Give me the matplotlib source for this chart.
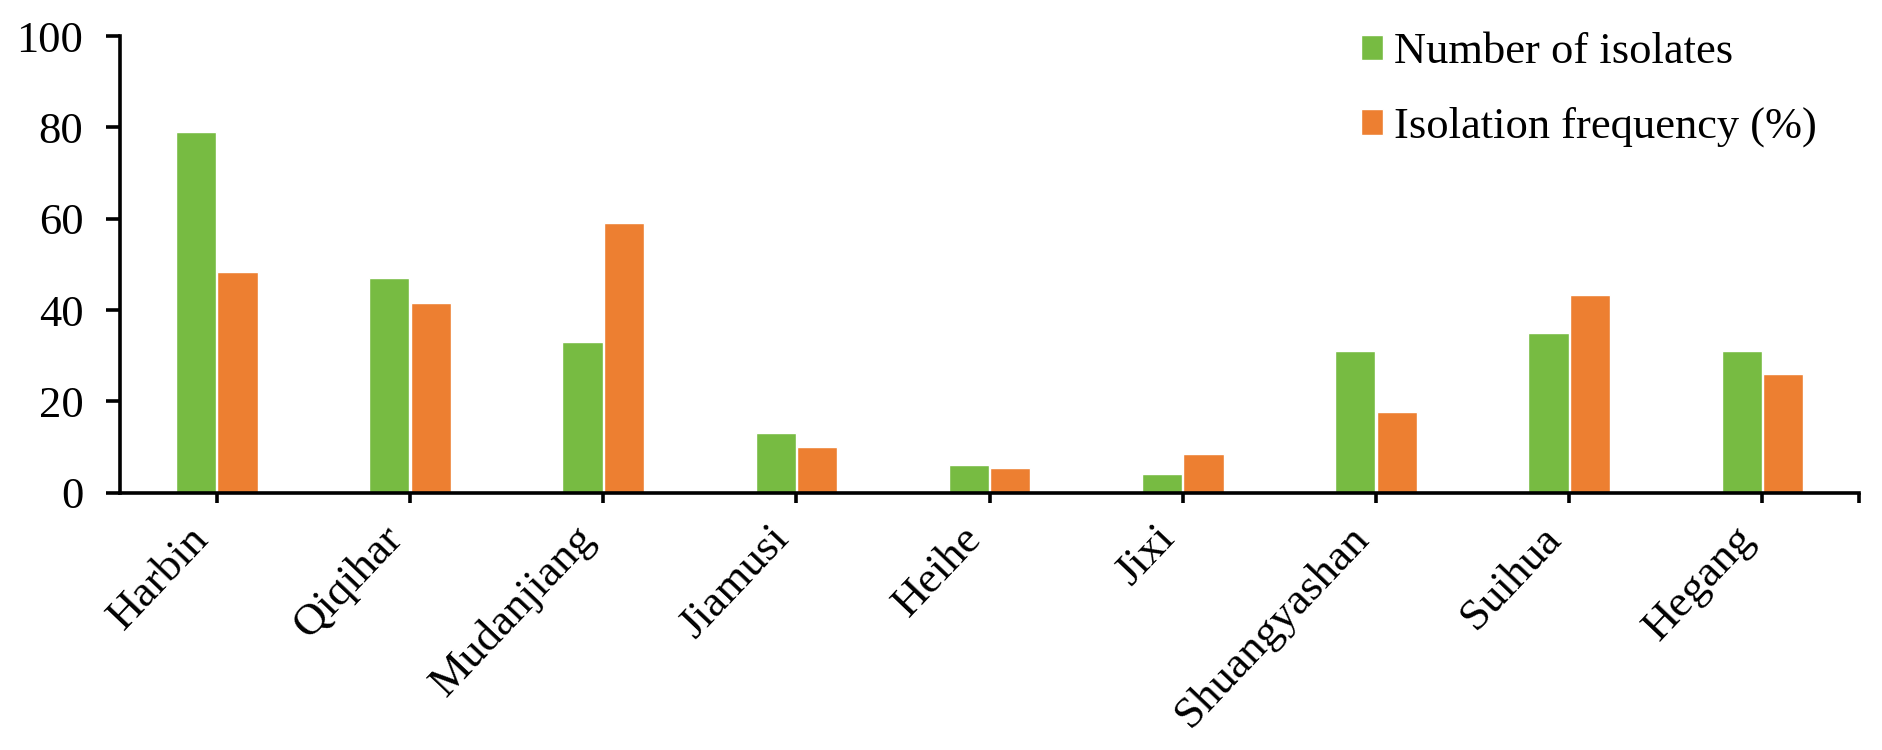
import matplotlib
matplotlib.use("Agg")
import matplotlib.pyplot as plt
import numpy as np
from matplotlib.transforms import ScaledTranslation

categories = ["Harbin", "Qiqihar", "Mudanjiang", "Jiamusi", "Heihe", "Jixi",
              "Shuangyashan", "Suihua", "Hegang"]
number_of_isolates = [79, 47, 33, 13, 6, 4, 31, 35, 31]
isolation_frequency = [48.4, 41.5, 59.0, 10.0, 5.4, 8.5, 17.6, 43.2, 25.9]
series_names = ["Number of isolates", "Isolation frequency (%)"]
yticks = [0, 20, 40, 60, 80, 100]

GREEN = "#77BB42"
ORANGE = "#ED7F31"

plt.rcParams['font.family'] = ['Liberation Serif', 'DejaVu Serif']

fig = plt.figure(figsize=(18.83, 7.5), dpi=100)
ax = fig.add_axes([120.3 / 1883, 1 - 492.7 / 750, (1858.9 - 120.3) / 1883, (492.7 - 36) / 750])

x = np.arange(len(categories))
w = 0.208
off = 0.107
ax.bar(x - off, number_of_isolates, width=w, color=GREEN, edgecolor="white",
       linewidth=1.0, label=series_names[0], zorder=2)
ax.bar(x + off, isolation_frequency, width=w, color=ORANGE, edgecolor="white",
       linewidth=1.0, label=series_names[1], zorder=2)

ax.set_xlim(-0.5, len(categories) - 0.5)
ax.set_ylim(0, 100)
ax.set_yticks(yticks)
ax.set_yticklabels([str(v) for v in yticks], fontsize=32)
ax.set_xticks(x)
ax.set_xticklabels(categories, fontsize=32.5, rotation=46.5, ha="right", va="top")
ax.set_xticks([len(categories) - 0.5], minor=True)

for lab in ax.get_xticklabels():
    lab.set_transform(lab.get_transform() + ScaledTranslation(14 / 100, 0, fig.dpi_scale_trans))

ax.spines["top"].set_visible(False)
ax.spines["right"].set_visible(False)
for s in ("left", "bottom"):
    ax.spines[s].set_linewidth(2.6)
    ax.spines[s].set_zorder(3)
ax.tick_params(axis="y", direction="out", length=10, width=2.6, pad=16.5)
ax.tick_params(axis="x", which="both", direction="out", length=7.5, width=2.6, pad=11)

leg = ax.legend(loc="upper left", bbox_to_anchor=(1361 / 1883, 0.957),
                bbox_transform=fig.transFigure, frameon=False, fontsize=32,
                handlelength=0.5, handleheight=0.5, handletextpad=0.25,
                labelspacing=0.78, borderpad=0, borderaxespad=0)

fig.savefig("out.png", dpi=100)
